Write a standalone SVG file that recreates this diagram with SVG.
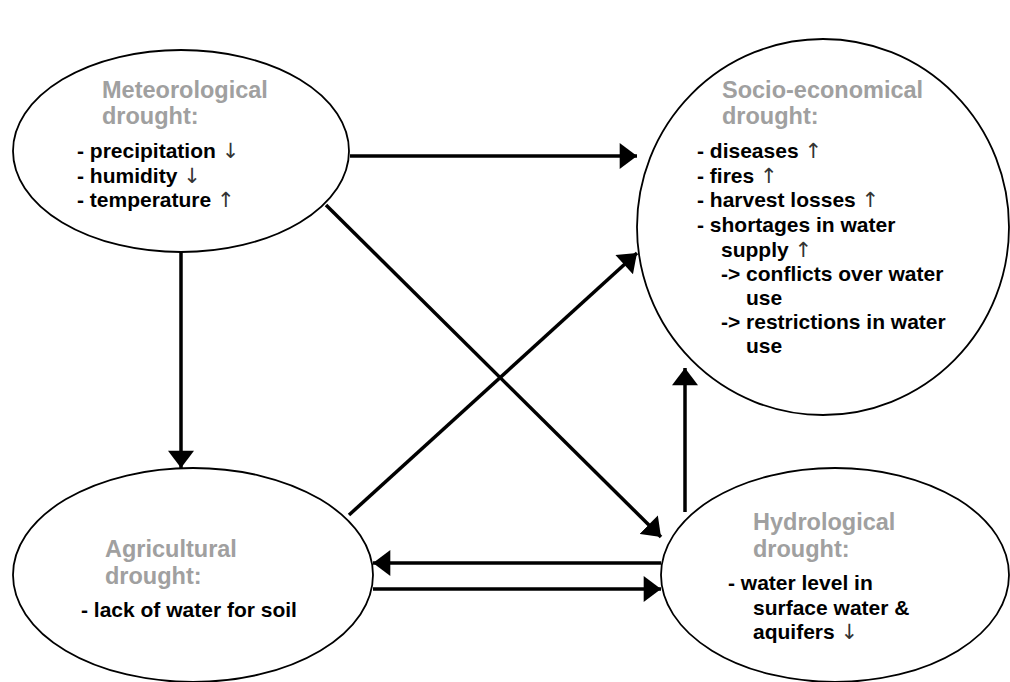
<svg xmlns="http://www.w3.org/2000/svg" width="1010" height="682" viewBox="0 0 1010 682">
<style>
.node{fill:#fff;stroke:#000;stroke-width:1.8}
.t{font-family:"Liberation Sans",Arial,sans-serif;font-weight:bold;fill:#a0a0a0;font-size:23.5px}
.b{font-family:"Liberation Sans",Arial,sans-serif;font-weight:bold;fill:#000;font-size:21px}
.ar{font-family:"DejaVu Sans",sans-serif;font-weight:normal;fill:#333}
.c{stroke:#000;stroke-width:3.5;fill:none;marker-end:url(#ah)}
</style>
<defs>
<marker id="ah" markerUnits="userSpaceOnUse" markerWidth="18" markerHeight="26" refX="16" refY="12" orient="auto" viewBox="0 0 16 24">
<path d="M0,0 L16,12 L0,24 z" fill="#000"/>
</marker>
</defs>
<rect width="1010" height="682" fill="#fff"/>
<g id="n-met">
<ellipse class="node" cx="181" cy="151" rx="168" ry="101"/>
<text class="t" x="102" y="98">Meteorological</text>
<text class="t" x="102" y="124">drought:</text>
<text class="b" x="77" y="158">- precipitation <tspan class="ar">↓</tspan></text>
<text class="b" x="77" y="183">- humidity <tspan class="ar">↓</tspan></text>
<text class="b" x="77" y="207">- temperature <tspan class="ar">↑</tspan></text>
</g>
<g id="n-socio">
<ellipse class="node" cx="823" cy="227" rx="186" ry="188"/>
<text class="t" x="722" y="98">Socio-economical</text>
<text class="t" x="722" y="124">drought:</text>
<text class="b" x="697" y="158">- diseases <tspan class="ar">↑</tspan></text>
<text class="b" x="697" y="183">- fires <tspan class="ar">↑</tspan></text>
<text class="b" x="697" y="207">- harvest losses <tspan class="ar">↑</tspan></text>
<text class="b" x="697" y="232">- shortages in water</text>
<text class="b" x="721" y="257">supply <tspan class="ar">↑</tspan></text>
<text class="b" x="721" y="281">-&gt; conflicts over water</text>
<text class="b" x="746" y="305">use</text>
<text class="b" x="721" y="329">-&gt; restrictions in water</text>
<text class="b" x="746" y="353">use</text>
</g>
<g id="n-agri">
<ellipse class="node" cx="193" cy="575" rx="180" ry="107"/>
<text class="t" x="105" y="557">Agricultural</text>
<text class="t" x="105" y="584">drought:</text>
<text class="b" x="81" y="617">- lack of water for soil</text>
</g>
<g id="n-hydro">
<ellipse class="node" cx="835" cy="575" rx="174" ry="107"/>
<text class="t" x="753" y="530">Hydrological</text>
<text class="t" x="753" y="557">drought:</text>
<text class="b" x="728" y="590">- water level in</text>
<text class="b" x="753" y="615">surface water &amp;</text>
<text class="b" x="753" y="639">aquifers <tspan class="ar">↓</tspan></text>
</g>
<g id="connectors">
<line class="c" x1="350" y1="156" x2="637" y2="156"/>
<line class="c" x1="181" y1="252" x2="181" y2="468"/>
<line class="c" x1="326" y1="205" x2="661" y2="537"/>
<line class="c" x1="349" y1="515" x2="637" y2="253"/>
<line class="c" x1="685" y1="512" x2="685" y2="368"/>
<line class="c" x1="661" y1="563" x2="373" y2="563"/>
<line class="c" x1="373" y1="589" x2="661" y2="589"/>
</g>
</svg>
